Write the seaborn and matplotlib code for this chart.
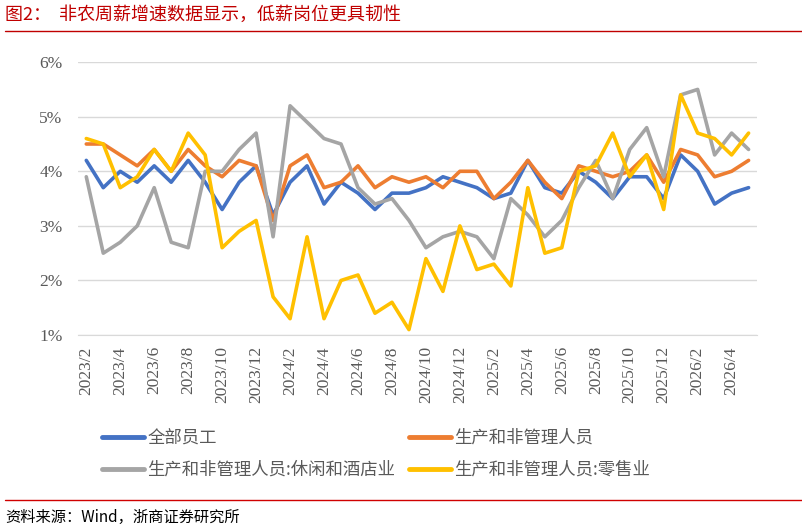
import numpy as np
import pandas as pd
import seaborn as sns
import matplotlib.pyplot as plt
from matplotlib.lines import Line2D
from matplotlib.ticker import FuncFormatter, FixedLocator

# 月份: 2023/2 ~ 2026/5
months = [f"{y}/{m}" for y in range(2023, 2027) for m in range(1, 13)][1:41]

# 周薪同比增速 (%)
all_emp = [4.2, 3.7, 4.0, 3.8, 4.1, 3.8, 4.2, 3.8, 3.3, 3.8,
           4.1, 3.2, 3.8, 4.1, 3.4, 3.8, 3.6, 3.3, 3.6, 3.6,
           3.7, 3.9, 3.8, 3.7, 3.5, 3.6, 4.2, 3.7, 3.6, 4.0,
           3.8, 3.5, 3.9, 3.9, 3.5, 4.3, 4.0, 3.4, 3.6, 3.7]
prod = [4.5, 4.5, 4.3, 4.1, 4.4, 4.0, 4.4, 4.1, 3.9, 4.2,
        4.1, 3.1, 4.1, 4.3, 3.7, 3.8, 4.1, 3.7, 3.9, 3.8,
        3.9, 3.7, 4.0, 4.0, 3.5, 3.8, 4.2, 3.8, 3.5, 4.1,
        4.0, 3.9, 4.0, 4.3, 3.8, 4.4, 4.3, 3.9, 4.0, 4.2]
leisure = [3.9, 2.5, 2.7, 3.0, 3.7, 2.7, 2.6, 4.0, 4.0, 4.4,
           4.7, 2.8, 5.2, 4.9, 4.6, 4.5, 3.7, 3.4, 3.5, 3.1,
           2.6, 2.8, 2.9, 2.8, 2.4, 3.5, 3.2, 2.8, 3.1, 3.7,
           4.2, 3.5, 4.4, 4.8, 3.9, 5.4, 5.5, 4.3, 4.7, 4.4]
retail = [4.6, 4.5, 3.7, 3.9, 4.4, 4.0, 4.7, 4.3, 2.6, 2.9,
          3.1, 1.7, 1.3, 2.8, 1.3, 2.0, 2.1, 1.4, 1.6, 1.1,
          2.4, 1.8, 3.0, 2.2, 2.3, 1.9, 3.7, 2.5, 2.6, 4.0,
          4.1, 4.7, 3.9, 4.3, 3.3, 5.4, 4.7, 4.6, 4.3, 4.7]

names = ["全部员工", "生产和非管理人员", "生产和非管理人员:休闲和酒店业", "生产和非管理人员:零售业"]
colors = ["#4472C4", "#ED7D31", "#A5A5A5", "#FFC000"]

df = pd.concat([
    pd.DataFrame({"pos": np.arange(len(months)), "月份": months, "系列": n, "增速": v})
    for n, v in zip(names, [all_emp, prod, leisure, retail])
])

sns.set_style("white")
plt.rcParams['font.family'] = ['Noto Sans CJK SC', 'DejaVu Sans']
serif = ['Liberation Serif', 'DejaVu Serif']

fig = plt.figure(figsize=(8.02, 5.31), dpi=100)
ax = fig.add_axes([0.097, 0.369, 0.847, 0.514])

sns.lineplot(data=df, x="pos", y="增速", hue="系列", hue_order=names,
             palette=dict(zip(names, colors)), linewidth=2.6, ax=ax, legend=False)

ax.set_xlim(-0.5, len(months) - 0.5)
ax.set_ylim(1, 6)
ax.set_yticks([1, 2, 3, 4, 5, 6])
ax.yaxis.set_major_formatter(FuncFormatter(lambda v, p: f"{v:.0f}%"))
ax.grid(True, axis='y', color="#D9D9D9", linewidth=1)
ax.set_axisbelow(True)

ax.set_xticks(np.arange(0, len(months), 2))
ax.set_xticklabels(months[::2], rotation=90)
ax.xaxis.set_minor_locator(FixedLocator(np.arange(-0.5, len(months), 2)))
ax.tick_params(axis='x', which='major', length=0, pad=8, labelsize=12.5, labelcolor="#595959")
ax.tick_params(axis='x', which='minor', length=4, width=1, color="#D9D9D9", direction='out')
ax.tick_params(axis='y', length=0, pad=11, labelsize=12.5, labelcolor="#595959")
for lab in ax.get_xticklabels() + ax.get_yticklabels():
    lab.set_family(serif)

for s in ["top", "right", "left"]:
    ax.spines[s].set_visible(False)
ax.spines["bottom"].set_color("#D9D9D9")
ax.set_xlabel("")
ax.set_ylabel("")

# 图例: 两列, 顺序按参考图排列
order = [0, 2, 1, 3]
handles = [Line2D([0], [0], color=colors[i], linewidth=3.5, solid_capstyle='round') for i in order]
fig.legend(handles, [names[i] for i in order], ncol=2, frameon=False,
           loc="upper left", bbox_to_anchor=(0.108, 0.222), fontsize=12.5,
           handlelength=2.4, handletextpad=0.2, columnspacing=0.8, labelspacing=0.8,
           labelcolor="#595959")

# 标题与来源
fig.text(0.006, 0.972, "图2：  非农周薪增速数据显示，低薪岗位更具韧性",
         color="#C00000", fontsize=13, va="center", ha="left")
fig.add_artist(Line2D([0.006, 1.0], [0.941, 0.941], color="#C00000", linewidth=1))
fig.add_artist(Line2D([0.006, 1.0], [0.059, 0.059], color="#D00000", linewidth=1))
fig.text(0.006, 0.025, "资料来源：Wind，浙商证券研究所", color="black", fontsize=11,
         va="center", ha="left")

fig.savefig("out.png", dpi=100)
